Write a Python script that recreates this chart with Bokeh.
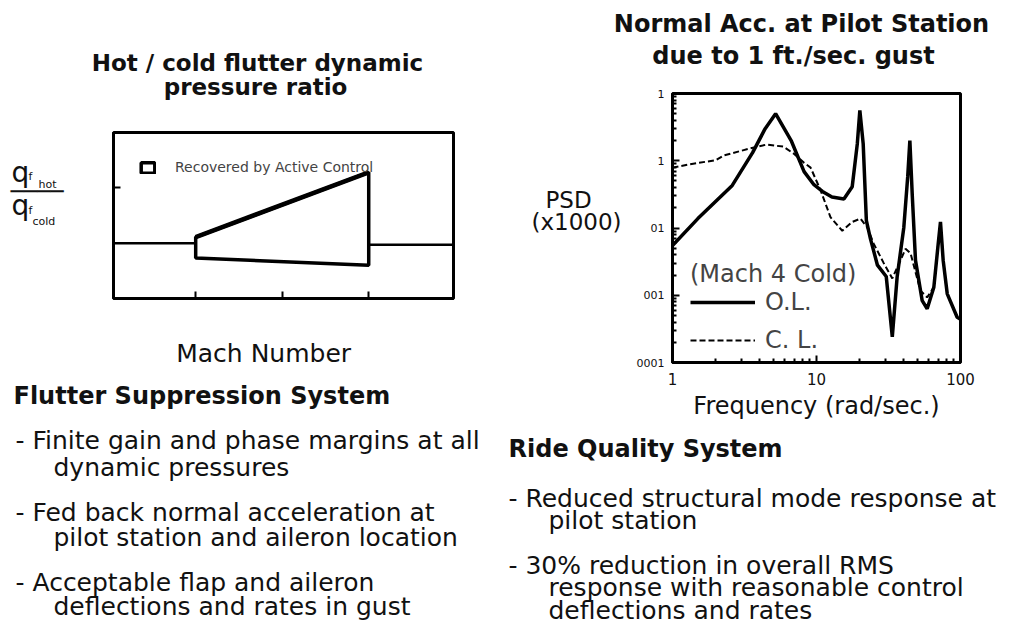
from bokeh.plotting import figure
from bokeh.layouts import row, column
from bokeh.models import Range1d, FixedTicker, Legend, LegendItem
from bokeh.core.properties import value
from bokeh.embed import file_html
from bokeh.resources import INLINE

# ---------------- data ----------------
# Left chart: hot / cold flutter dynamic pressure ratio vs Mach number
mach_region = [2.0, 4.0]
q_active = [1.055, 1.64]      # recovered by active control (upper bound)
q_passive = [0.865, 0.80]     # without control (lower bound)
mach_base_lo = [1.0, 2.0]
ratio_base_lo = [1.0, 1.0]
mach_base_hi = [4.0, 5.0]
ratio_base_hi = [0.985, 0.985]
mach_ticks = [2, 3, 4]
ratio_ticks = [1.5]

# Right chart: PSD of normal acceleration at pilot station
freq_ol = [1.0, 1.5, 2.6, 3.6, 4.4, 5.2, 6.7, 8.2, 9.6, 11.0, 12.8, 15.5, 17.7, 19.2,
           20.0, 21.1, 22.2, 23.7, 26.5, 30.5, 33.6, 36.3, 40.4, 43.0, 44.5, 46.2,
           48.7, 54.2, 58.7, 65.3, 70.0, 72.6, 75.8, 80.9, 94.8, 100.0]
psd_ol = [0.0055, 0.0138, 0.043, 0.132, 0.30, 0.50, 0.195, 0.069, 0.044, 0.035, 0.029,
          0.027, 0.041, 0.178, 0.56, 0.178, 0.0129, 0.0069, 0.0028, 0.0019, 0.00024,
          0.00186, 0.0102, 0.058, 0.20, 0.032, 0.0033, 0.00083, 0.00063, 0.00132,
          0.0058, 0.0123, 0.0033, 0.00105, 0.00047, 0.00044]
freq_cl = [1.0, 1.33, 2.0, 2.27, 3.4, 4.5, 5.9, 7.0, 8.2, 9.1, 10.7, 12.5, 15.1, 17.7,
           20.2, 22.5, 25.0, 29.3, 33.6, 38.3, 41.5, 45.0, 52.7, 58.7, 65.3, 70.0,
           72.6, 75.8, 80.9, 94.8, 100.0]
psd_cl = [0.079, 0.089, 0.102, 0.120, 0.151, 0.174, 0.162, 0.126, 0.093, 0.079, 0.036,
          0.0145, 0.0091, 0.0123, 0.0138, 0.0102, 0.0058, 0.0030, 0.00178, 0.0033,
          0.0049, 0.0042, 0.00117, 0.00093, 0.00132, 0.0058, 0.0123, 0.0033, 0.00105,
          0.00047, 0.00044]
psd_ticks = [1e-4, 1e-3, 1e-2, 1e-1, 1.0]
psd_tick_labels = ["0001", "001", "01", "1", "1"]
freq_ticks = [1, 10, 100]
freq_tick_labels = ["1", "10", "100"]

# Texts
left_title = ["Hot / cold flutter dynamic", "pressure ratio"]
right_title = ["Normal Acc. at Pilot Station", "due to 1 ft./sec. gust"]
left_xlabel = "Mach Number"
right_xlabel = "Frequency (rad/sec.)"
right_ylabel = ["PSD", "(x1000)"]
left_heading = "Flutter Suppression System"
left_lines = ["- Finite gain and phase margins at all", "dynamic pressures",
              "- Fed back normal acceleration at", "pilot station and aileron location",
              "- Acceptable flap and aileron", "deflections and rates in gust"]
right_heading = "Ride Quality System"
right_lines = ["- Reduced structural mode response at", "pilot station",
               "- 30% reduction in overall RMS", "response with reasonable control",
               "deflections and rates"]
legend_left = "Recovered by Active Control"
legend_title = "(Mach 4 Cold)"
series_names = ["O.L.", "C. L."]

FONT = "DejaVu Sans"


def text_fig(w, h):
    p = figure(width=w, height=h, x_range=Range1d(0, w), y_range=Range1d(h, 0),
               x_axis_location=None, y_axis_location=None, toolbar_location=None,
               output_backend="svg", min_border=0)
    p.outline_line_color = None
    p.grid.visible = False
    return p


def put(p, xs, ys, texts, size, bold=False, align="left", baseline="middle"):
    p.text(x=xs, y=ys, text=texts, text_font=value(FONT), text_font_size=size,
           text_font_style="bold" if bold else "normal", text_align=align,
           text_baseline=baseline, text_color="#111111")


def hide_labels(ax, ticks):
    ax.major_label_overrides = {t: "" for t in ticks}
    ax.major_label_text_color = None
    ax.major_label_standoff = 0


# ---------------- left column (x 0..500) ----------------
L_title = text_fig(500, 120)
put(L_title, [257, 255], [62, 86], left_title, "23px", bold=True, align="center")

yfrac = text_fig(88, 250)
put(yfrac, [11, 11], [60, 110], ["q", "q"], "28px", baseline="alphabetic")
put(yfrac, [28, 28], [67, 117], ["f", "f"], "11px", baseline="alphabetic")
put(yfrac, [38, 32], [79, 134], ["hot", "cold"], "11px", baseline="alphabetic")
put(yfrac, [10], [89], ["\u2500\u2500\u2500\u2500"], "22px")

pL = figure(width=412, height=250, x_range=Range1d(1.05, 4.98), y_range=Range1d(0.5, 2.0),
            toolbar_location=None, output_backend="svg",
            min_border_left=25, min_border_right=47, min_border_top=12, min_border_bottom=72)
pL.grid.visible = False
pL.outline_line_color = "black"
pL.outline_line_width = 3
pL.line(mach_base_lo, ratio_base_lo, line_color="black", line_width=2.5)
pL.line(mach_base_hi, ratio_base_hi, line_color="black", line_width=2.5)
rp = pL.patch(mach_region + mach_region[::-1], q_active + q_passive[::-1],
              fill_color="white", line_color="black", line_width=3.5)
pL.line(mach_region, q_active, line_color="black", line_width=4.5)
legL = Legend(items=[LegendItem(label=legend_left, renderers=[rp])], location=(26, 123),
              glyph_width=17, glyph_height=13, label_text_font=FONT,
              label_text_font_size="14px", padding=0, margin=0, label_standoff=19,
              border_line_color=None, background_fill_alpha=0)
pL.add_layout(legL)
for ax in (pL.xaxis[0], pL.yaxis[0]):
    ax.major_tick_in = 7
    ax.major_tick_out = 0
    ax.major_tick_line_width = 2
    ax.minor_tick_line_color = None
    ax.axis_line_width = 3
pL.xaxis.ticker = FixedTicker(ticks=mach_ticks)
pL.yaxis.ticker = FixedTicker(ticks=ratio_ticks)
hide_labels(pL.xaxis[0], mach_ticks)
hide_labels(pL.yaxis[0], ratio_ticks)
pL.xaxis.axis_label = left_xlabel + "\u00a0" * 5
pL.xaxis.axis_label_text_font = FONT
pL.xaxis.axis_label_text_font_size = "25px"
pL.xaxis.axis_label_text_font_style = "normal"
pL.xaxis.axis_label_text_color = "#111111"
pL.xaxis.axis_label_standoff = 40

L_text = text_fig(500, 255)
put(L_text, [13], [25], [left_heading], "24px", bold=True)
put(L_text, [15, 53, 15, 53, 15, 53], [70, 97, 142, 167, 212, 236], left_lines, "25px")

left_col = column(L_title, row(yfrac, pL), L_text)

# ---------------- right column (x 500..1005) ----------------
R_title = text_fig(505, 85)
put(R_title, [301, 293], [23, 55], right_title, "24px", bold=True, align="center")

psd_fig = text_fig(125, 340)
put(psd_fig, [68, 76], [135, 162], right_ylabel, "23px", align="center")

pR = figure(width=380, height=340, x_axis_type="log", y_axis_type="log",
            x_range=Range1d(1, 100), y_range=Range1d(1e-4, 1),
            toolbar_location=None, output_backend="svg",
            min_border_left=47, min_border_right=45, min_border_top=8, min_border_bottom=63)
pR.grid.visible = False
pR.outline_line_color = "black"
pR.outline_line_width = 3
r_ol = pR.line(freq_ol, psd_ol, line_color="black", line_width=3.5)
r_cl = pR.line(freq_cl, psd_cl, line_color="black", line_width=2, line_dash="6 3")
x_minor = [m * d for d in (1, 10) for m in range(2, 10)]
y_minor = [m * d for d in (1e-4, 1e-3, 1e-2, 1e-1) for m in range(2, 10)]
pR.xaxis.ticker = FixedTicker(ticks=freq_ticks, minor_ticks=x_minor)
pR.yaxis.ticker = FixedTicker(ticks=psd_ticks, minor_ticks=y_minor)
pR.xaxis.major_label_overrides = dict(zip(freq_ticks, freq_tick_labels))
pR.yaxis.major_label_overrides = dict(zip(psd_ticks, psd_tick_labels))
for ax in (pR.xaxis[0], pR.yaxis[0]):
    ax.major_tick_in = 7
    ax.major_tick_out = 0
    ax.minor_tick_in = 4
    ax.minor_tick_out = 0
    ax.major_tick_line_width = 2
    ax.minor_tick_line_width = 2
    ax.axis_line_width = 3
    ax.major_label_text_font = FONT
    ax.major_label_text_color = "#111111"
pR.xaxis.major_label_text_font_size = "15px"
pR.yaxis.major_label_text_font_size = "11px"
pR.xaxis.major_label_standoff = 10
pR.yaxis.major_label_standoff = 8
pR.xaxis.axis_label = right_xlabel
pR.xaxis.axis_label_text_font = FONT
pR.xaxis.axis_label_text_font_size = "24px"
pR.xaxis.axis_label_text_font_style = "normal"
pR.xaxis.axis_label_text_color = "#111111"
pR.xaxis.axis_label_standoff = 4
legR = Legend(items=[LegendItem(label=series_names[0], renderers=[r_ol]),
                     LegendItem(label=series_names[1], renderers=[r_cl])],
              location=(18, 8), title=legend_title, title_text_font=FONT,
              title_text_font_size="24px", title_text_font_style="normal",
              label_text_font=FONT, label_text_font_size="24px", glyph_width=65,
              glyph_height=20, spacing=10, padding=0, margin=0, label_standoff=10,
              title_standoff=0, border_line_color=None, background_fill_alpha=0)
pR.add_layout(legR)

R_text = text_fig(505, 200)
put(R_text, [8], [23], [right_heading], "24px", bold=True)
put(R_text, [8, 48, 8, 48, 48], [73, 95, 140, 162, 185], right_lines, "25px")

right_col = column(R_title, row(psd_fig, pR), R_text)

layout = row(left_col, right_col)
open("out.html", "w").write(file_html(layout, INLINE))
